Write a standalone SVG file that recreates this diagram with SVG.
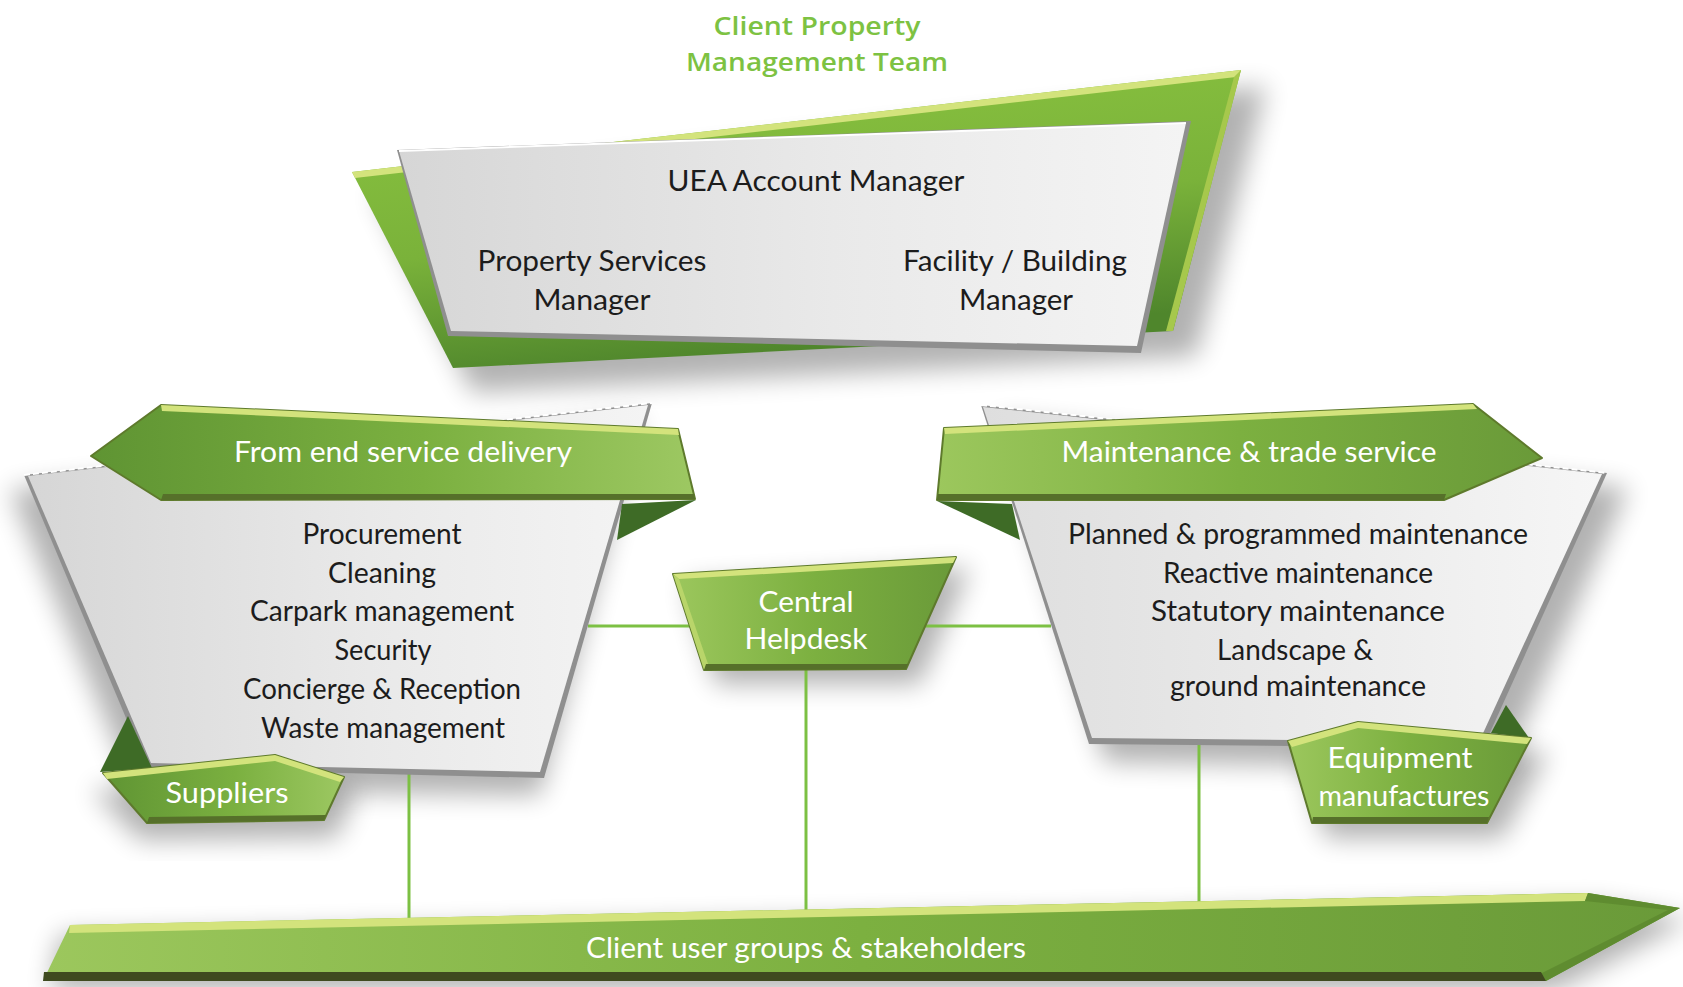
<svg xmlns="http://www.w3.org/2000/svg" width="1683" height="987" viewBox="0 0 1683 987">
<style>
.t{font-family:Lato,"Liberation Sans",sans-serif;font-size:29px;fill:#1c1c1c;text-anchor:middle}
.w{font-family:Lato,"Liberation Sans",sans-serif;font-size:29px;fill:#ffffff;text-anchor:middle}
.h{font-family:"Open Sans","Liberation Sans",sans-serif;font-size:26px;font-weight:600;fill:#7dc242;text-anchor:middle}
.base{fill:#8f8f8f}
.fold{fill:#3e6b26}
.hi{fill:#d3e37c}
.dk{fill:#56702a}
.conn{stroke:#7cc043;stroke-width:3;fill:none}
.sh{fill:#000;opacity:.3;filter:url(#blur)}
</style>
<defs>
<filter id="blur" x="-30%" y="-30%" width="160%" height="160%"><feGaussianBlur stdDeviation="13"/></filter>
<linearGradient id="gCard" x1="0" y1="0" x2="1" y2="0">
<stop offset="0" stop-color="#d6d6d6"/><stop offset="0.55" stop-color="#e9e9e9"/><stop offset="1" stop-color="#f4f4f4"/>
</linearGradient>
<linearGradient id="gCardR" x1="0" y1="0" x2="1" y2="0">
<stop offset="0" stop-color="#dedede"/><stop offset="0.6" stop-color="#ececec"/><stop offset="1" stop-color="#f6f6f6"/>
</linearGradient>
<linearGradient id="gDarkToLight" x1="0" y1="0" x2="1" y2="0">
<stop offset="0" stop-color="#5f9433"/><stop offset="0.55" stop-color="#7bb040"/><stop offset="1" stop-color="#9dc862"/>
</linearGradient>
<linearGradient id="gLightToDark" x1="0" y1="0" x2="1" y2="0">
<stop offset="0" stop-color="#9cc75d"/><stop offset="0.5" stop-color="#7cb040"/><stop offset="1" stop-color="#6a9a39"/>
</linearGradient>
<linearGradient id="gTop" x1="0" y1="0" x2="0.3" y2="1">
<stop offset="0" stop-color="#8cc540"/><stop offset="0.6" stop-color="#7ab23a"/><stop offset="1" stop-color="#4f862c"/>
</linearGradient>
</defs>

<g id="shadows">
<polygon class="sh" points="375,192 1266,86 1196,356 472,392"/>
<polygon class="sh" points="10,490 640,420 540,795 135,790"/>
<polygon class="sh" points="1000,420 1628,488 1505,768 1105,762"/>
<polygon class="sh" points="686,584 970,568 920,684 716,684"/>
<polygon class="sh" points="92,790 290,772 356,792 336,838 140,840"/>
<polygon class="sh" points="1300,756 1372,738 1548,752 1502,838 1326,838"/>
<polygon class="sh" points="60,935 1600,905 1690,920 1556,990 50,990"/>
</g>

<g id="connectors">
<line class="conn" x1="588" y1="626" x2="1051" y2="626"/>
<line class="conn" x1="806" y1="668" x2="806" y2="910"/>
<line class="conn" x1="409" y1="772" x2="409" y2="920"/>
<line class="conn" x1="1199" y1="744" x2="1199" y2="902"/>
</g>

<g id="title">
<text class="h" x="817" y="35" textLength="207" lengthAdjust="spacingAndGlyphs">Client Property</text>
<text class="h" x="817" y="71" textLength="262" lengthAdjust="spacingAndGlyphs">Management Team</text>
</g>

<g id="node-account">
<polygon points="352,172 1241,70 1173,331 453,368" fill="url(#gTop)"/>
<polygon class="hi" points="352,172 1241,70 1236,77 355,178"/>
<polygon points="1241,70 1173,331 1166,331 1234,77" fill="#a6c84c"/>
<polygon class="base" points="397,150 1191,121 1141,353 448,336"/>
<polygon points="399,151 1186,123 1137,346 451,331" fill="url(#gCard)"/>
<polyline points="399,151 1186,123" stroke="#ffffff" stroke-width="2" fill="none"/>
<text class="t" x="816" y="191" textLength="297" lengthAdjust="spacingAndGlyphs">UEA Account Manager</text>
<text class="t" x="592" y="271" textLength="229" lengthAdjust="spacingAndGlyphs">Property Services</text>
<text class="t" x="592" y="310" textLength="117" lengthAdjust="spacingAndGlyphs">Manager</text>
<text class="t" x="1015" y="271" textLength="224" lengthAdjust="spacingAndGlyphs">Facility / Building</text>
<text class="t" x="1016" y="310" textLength="114" lengthAdjust="spacingAndGlyphs">Manager</text>
</g>

<g id="node-front-end">
<polygon class="base" points="24,475 652,403 544,778 147,768"/>
<polygon points="28,476 648,405 540,772 151,763" fill="url(#gCard)"/>
<polyline points="24,475 652,403" stroke="#ffffff" stroke-width="2" stroke-dasharray="6,3" fill="none"/>
<polygon class="fold" points="622,504 696,500 617,540"/>
<polygon points="91,456 161,405 678,429 695,499 161,500" fill="url(#gDarkToLight)" stroke="#5e7a2c" stroke-width="2" stroke-linejoin="round"/>
<polygon class="hi" points="161,405 678,429 679,435 162,411"/>
<polygon class="dk" points="161,500 695,499 694,494 163,494"/>
<text class="w" x="403" y="462" textLength="338" lengthAdjust="spacingAndGlyphs">From end service delivery</text>
<text class="t" x="382" y="544" textLength="159" lengthAdjust="spacingAndGlyphs">Procurement</text>
<text class="t" x="382" y="583" textLength="108" lengthAdjust="spacingAndGlyphs">Cleaning</text>
<text class="t" x="382" y="621" textLength="264" lengthAdjust="spacingAndGlyphs">Carpark management</text>
<text class="t" x="383" y="660" textLength="97" lengthAdjust="spacingAndGlyphs">Security</text>
<text class="t" x="382" y="699" textLength="278" lengthAdjust="spacingAndGlyphs">Concierge &amp; Reception</text>
<text class="t" x="383" y="738" textLength="244" lengthAdjust="spacingAndGlyphs">Waste management</text>
</g>

<g id="node-suppliers">
<polygon class="fold" points="128,716 100,772 152,768"/>
<polygon points="103,773 275,755 344,777 324,820 147,823" fill="url(#gDarkToLight)" stroke="#5e7a2c" stroke-width="2" stroke-linejoin="round"/>
<polygon class="hi" points="103,773 275,755 344,777 340,782 275,761 107,779"/>
<polygon class="dk" points="147,823 324,820 326,815 149,817"/>
<text class="w" x="227" y="803" textLength="123" lengthAdjust="spacingAndGlyphs">Suppliers</text>
</g>

<g id="node-maintenance">
<polygon class="base" points="981,405 1607,473 1483,748 1089,744"/>
<polygon points="983,407 1602,474 1479,742 1092,738" fill="url(#gCardR)"/>
<polyline points="981,405 1607,473" stroke="#ffffff" stroke-width="2" stroke-dasharray="6,3" fill="none"/>
<polygon class="fold" points="937,501 1012,504 1020,540"/>
<polygon points="944,428 1473,404 1542,458 1444,500 937,500" fill="url(#gLightToDark)" stroke="#5e7a2c" stroke-width="2" stroke-linejoin="round"/>
<polygon class="hi" points="944,428 1473,404 1477,409 945,434"/>
<polygon class="dk" points="937,500 1444,500 1446,494 938,494"/>
<text class="w" x="1249" y="462" textLength="375" lengthAdjust="spacingAndGlyphs">Maintenance &amp; trade service</text>
<text class="t" x="1298" y="544" textLength="460" lengthAdjust="spacingAndGlyphs">Planned &amp; programmed maintenance</text>
<text class="t" x="1298" y="583" textLength="270" lengthAdjust="spacingAndGlyphs">Reactive maintenance</text>
<text class="t" x="1298" y="621" textLength="294" lengthAdjust="spacingAndGlyphs">Statutory maintenance</text>
<text class="t" x="1295" y="660" textLength="156" lengthAdjust="spacingAndGlyphs">Landscape &amp;</text>
<text class="t" x="1298" y="696" textLength="256" lengthAdjust="spacingAndGlyphs">ground maintenance</text>
</g>

<g id="node-equipment">
<polygon class="fold" points="1491,733 1506,705 1529,738"/>
<polygon points="1288,741 1358,722 1531,738 1487,823 1312,823" fill="url(#gLightToDark)" stroke="#5e7a2c" stroke-width="2" stroke-linejoin="round"/>
<polygon class="hi" points="1288,741 1358,722 1531,738 1527,744 1358,728 1292,747"/>
<polygon class="dk" points="1312,823 1487,823 1489,817 1313,817"/>
<text class="w" x="1400" y="768" textLength="145" lengthAdjust="spacingAndGlyphs">Equipment</text>
<text class="w" x="1404" y="806" textLength="171" lengthAdjust="spacingAndGlyphs">manufactures</text>
</g>

<g id="node-helpdesk">
<polygon points="673,574 956,557 906,669 704,670" fill="url(#gLightToDark)" stroke="#5e7a2c" stroke-width="2" stroke-linejoin="round"/>
<polygon class="hi" points="673,574 956,557 953,563 679,579"/>
<polygon points="673,574 679,579 708,664 704,670" fill="#b9d56a"/>
<polygon class="dk" points="704,670 906,669 908,664 706,664"/>
<text class="w" x="806" y="612" font-size="31" textLength="95" lengthAdjust="spacingAndGlyphs">Central</text>
<text class="w" x="806" y="649" font-size="31" textLength="123" lengthAdjust="spacingAndGlyphs">Helpdesk</text>
</g>

<g id="node-client-groups">
<polygon points="70,925 1588,893 1680,908 1546,981 43,981" fill="url(#gLightToDark)"/>
<polygon class="hi" points="70,925 1588,893 1585,901 69,933"/>
<polygon points="1588,893 1680,908 1546,981 1540,974 1668,910 1585,901" fill="#5f8c30"/>
<polygon points="44,972 1541,972 1546,981 43,981" fill="#3f4a1f"/>
<text class="w" x="806" y="958" textLength="440" lengthAdjust="spacingAndGlyphs">Client user groups &amp; stakeholders</text>
</g>
</svg>
